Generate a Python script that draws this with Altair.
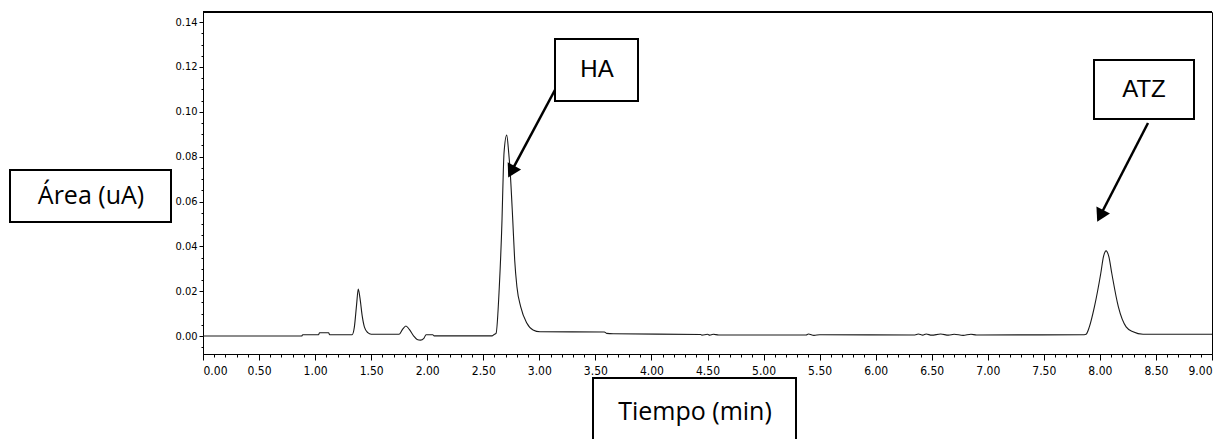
import altair as alt
import pandas as pd

# Chromatogram trace: time (min) and signal (uA)
time_min = [0.00, 0.88, 0.89, 1.03, 1.04, 1.12, 1.13, 1.33, 1.35, 1.37, 1.385, 1.40, 1.42, 1.44, 1.47,
            1.50, 1.75, 1.78, 1.81, 1.84, 1.88, 1.91, 1.94, 1.97, 1.99, 2.05, 2.06, 2.58, 2.60, 2.614,
            2.643, 2.667, 2.679, 2.685, 2.709, 2.727, 2.739, 2.763, 2.78, 2.80, 2.834, 2.888, 2.944, 3.006,
            3.58, 3.60, 3.66, 4.44, 4.45, 4.50, 4.52, 4.55, 4.60, 5.38, 5.40, 5.45, 5.50, 6.35, 6.38,
            6.42, 6.45, 6.50, 6.58, 6.65, 6.70, 6.78, 6.85, 6.90, 7.86, 7.877, 7.906, 7.951, 8.008,
            8.032, 8.055, 8.08, 8.106, 8.165, 8.234, 8.296, 8.385, 9.00]
area_ua = [0.0000, 0.0000, 0.0006, 0.0006, 0.0015, 0.0015, 0.0006, 0.0006, 0.0040, 0.0140, 0.0210,
           0.0170, 0.0090, 0.0040, 0.0015, 0.0008, 0.0008, 0.0030, 0.0045, 0.0030, 0.0000, -0.0015,
           -0.0018, -0.0010, 0.0006, 0.0006, 0.0001, 0.0001, 0.0008, 0.0012, 0.0220, 0.0517, 0.0740,
           0.0816, 0.0896, 0.0816, 0.0740, 0.0517, 0.0340, 0.0220, 0.0130, 0.0058, 0.0027, 0.0019, 0.0018,
           0.0012, 0.0010, 0.0007, 0.0004, 0.0008, 0.0004, 0.0008, 0.0005, 0.0005, 0.0009, 0.0003,
           0.0006, 0.0005, 0.0009, 0.0004, 0.0009, 0.0004, 0.0009, 0.0004, 0.0008, 0.0003, 0.0008,
           0.0005, 0.0006, 0.0008, 0.0041, 0.0130, 0.0280, 0.0354, 0.0380, 0.0354, 0.0280, 0.0130,
           0.0041, 0.0019, 0.0008, 0.0008]

x_ticks = [round(i * 0.1, 1) for i in range(0, 91)]
y_ticks = [round(i * 0.005, 3) for i in range(-1, 29)]

y_label = "Área (uA)"
x_label = "Tiempo (min)"
peak_labels = ["HA", "ATZ"]

df = pd.DataFrame({"t": time_min, "v": area_ua})
one = pd.DataFrame({"k": [0]})

W, H = 1009, 342
TICK_FONT = "Liberation Sans Narrow, DejaVu Sans Condensed, Liberation Sans, sans-serif"

x_axis = alt.Axis(
    values=x_ticks, grid=False, title=None, domainColor="black", tickColor="black",
    labelFont=TICK_FONT, labelFontSize=12, labelColor="black", labelOverlap=False,
    labelExpr="abs(round(datum.value*2) - datum.value*2) < 0.001 ? format(datum.value, '.2f') : ''",
    tickSize={"condition": {"test": "abs(round(datum.value*2) - datum.value*2) < 0.001", "value": 6}, "value": 3},
    labelPadding=5,
)
y_axis = alt.Axis(
    values=y_ticks, grid=False, title=None, domainColor="black", tickColor="black",
    labelFont=TICK_FONT, labelFontSize=11, labelColor="black", labelOverlap=False,
    labelExpr="datum.value >= 0 && abs(round(datum.value*50) - datum.value*50) < 0.001 ? format(datum.value, '.2f') : ''",
    tickSize={"condition": {"test": "abs(round(datum.value*50) - datum.value*50) < 0.001", "value": 4}, "value": 2},
    labelPadding=2,
)

line = alt.Chart(df).mark_line(color="#1a1a1a", strokeWidth=1.1, interpolate="monotone", clip=True).encode(
    x=alt.X("t:Q", scale=alt.Scale(domain=[0, 9], nice=False, zero=False), axis=x_axis),
    y=alt.Y("v:Q", scale=alt.Scale(domain=[-0.008, 0.1445], nice=False, zero=False), axis=y_axis),
)

top_rule = alt.Chart(one).mark_rule(color="black", strokeWidth=2).encode(
    x=alt.value(0), x2=alt.value(W), y=alt.value(0)
)


def box(x0, x1, y0, y1, label, cx, cy, font, size):
    r = alt.Chart(one).mark_rect(fill="white", stroke="black", strokeWidth=2, clip=False).encode(
        x=alt.value(x0), x2=alt.value(x1), y=alt.value(y0), y2=alt.value(y1)
    )
    t = alt.Chart(one).mark_text(text=label, font=font, fontSize=size, color="black",
                                 align="center", baseline="middle").encode(
        x=alt.value(cx), y=alt.value(cy)
    )
    return [r, t]


def arrow(x0, y0, xc, yc, ang):
    r = alt.Chart(one).mark_rule(color="black", strokeWidth=2.5).encode(
        x=alt.value(x0), y=alt.value(y0), x2=alt.value(xc), y2=alt.value(yc)
    )
    p = alt.Chart(one).mark_point(shape="triangle-up", filled=True, color="black", opacity=1,
                                  size=230, angle=ang).encode(
        x=alt.value(xc), y=alt.value(yc)
    )
    return [r, p]


BOX_FONT = "Open Sans"
layers = [line, top_rule]
layers += box(-193, -32, 158, 210, y_label, -112, 184, BOX_FONT, 25)
layers += box(390, 593, 366, 440, x_label, 492, 400, BOX_FONT, 25)
layers += arrow(353, 76, 308.3, 159.7, 208)
layers += box(352, 435, 27, 89, peak_labels[0], 394, 58, "Liberation Sans", 24)
layers += arrow(945, 111, 897.2, 203.8, 207)
layers += box(891, 991, 48, 107, peak_labels[1], 941, 78, "Liberation Sans", 24)

chart = alt.layer(*layers).properties(
    width=W, height=H,
    autosize=alt.AutoSizeParams(type="none"),
    padding={"left": 203, "top": 12, "right": 13, "bottom": 85},
    background="white",
).configure_view(stroke="black", strokeWidth=1)

chart.save("out.html", embed_options={"renderer": "svg", "actions": False})
